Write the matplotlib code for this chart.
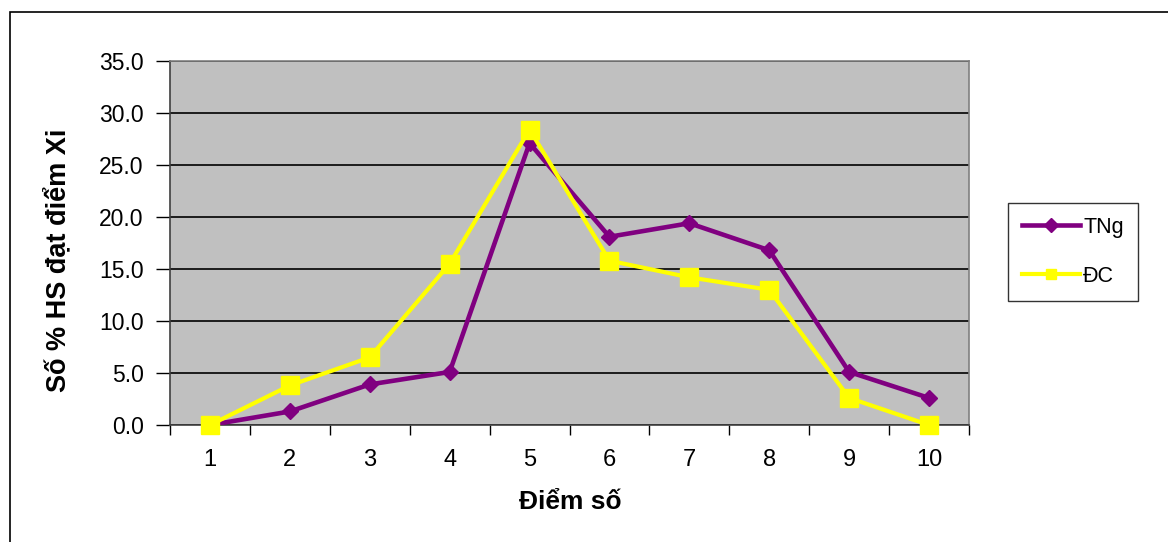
import matplotlib
matplotlib.use("Agg")
import matplotlib.pyplot as plt
from matplotlib.patches import Rectangle

categories = [1, 2, 3, 4, 5, 6, 7, 8, 9, 10]
tng = [0.0, 1.3, 3.9, 5.1, 27.1, 18.1, 19.4, 16.8, 5.1, 2.6]
dc = [0.0, 3.8, 6.5, 15.5, 28.4, 15.8, 14.2, 13.0, 2.6, 0.0]
yticks = [0, 5, 10, 15, 20, 25, 30, 35]

plt.rcParams['font.family'] = ['Liberation Sans', 'DejaVu Sans']

W, H = 1168, 542
fig = plt.figure(figsize=(W / 100, H / 100), dpi=100)
fig.patch.set_facecolor('white')

# outer chart border
fig.add_artist(Rectangle((10 / W, -0.1), 1.2, 1 - 12 / H + 0.1, transform=fig.transFigure,
                         fill=False, edgecolor='black', linewidth=1.2))

ax = fig.add_axes([170 / W, 1 - 425 / H, (969 - 170) / W, (425 - 61) / H])
ax.set_facecolor('#C0C0C0')

ax.plot(categories, tng, color='#800080', linewidth=3.3, marker='D', markersize=8.5,
        markerfacecolor='#800080', markeredgecolor='#800080', label='TNg', zorder=3)
ax.plot(categories, dc, color='#FFFF00', linewidth=3, marker='s', markersize=13.5,
        markerfacecolor='#FFFF00', markeredgecolor='#FFFF00', label='ĐC', zorder=4,
        clip_on=False)

ax.set_xlim(0.5, 10.5)
ax.set_ylim(0, 35)
ax.set_yticks(yticks)
ax.set_yticklabels([f"{v:.1f}" for v in yticks], fontsize=16.5)
ax.yaxis.grid(True, color='black', linewidth=1.2)
ax.set_axisbelow(True)

ax.set_xticks([c + 0.5 for c in [0] + categories])
ax.set_xticklabels([])
ax.set_xticks(categories, minor=True)
ax.set_xticklabels([str(c) for c in categories], minor=True, fontsize=17)
ax.tick_params(axis='x', which='minor', length=0, pad=17)
ax.tick_params(axis='x', which='major', length=7, width=1, color='black', direction='out')
ax.tick_params(axis='y', length=10, width=1, color='black', direction='out', pad=9)

for s in ['left', 'bottom']:
    ax.spines[s].set_color('#404040')
    ax.spines[s].set_linewidth(1.2)
for s in ['top', 'right']:
    ax.spines[s].set_color('#808080')
    ax.spines[s].set_linewidth(1.2)

fig.text(58 / W, 1 - 260 / H, 'Số % HS đạt điểm Xi', fontsize=19.5, fontweight='bold',
         rotation=90, ha='center', va='center')
fig.text(570 / W, 1 - 502 / H, 'Điểm số', fontsize=19, fontweight='bold',
         ha='center', va='center')

leg = fig.legend(loc='upper left', bbox_to_anchor=(1008 / W, 1 - 203 / H), fontsize=15.5,
                 frameon=True, fancybox=False, edgecolor='black', handlelength=2.7,
                 borderpad=0.65, labelspacing=1.3, handletextpad=0.15, borderaxespad=0)
leg.get_frame().set_linewidth(1.0)
for h in leg.legend_handles:
    h.set_markersize(7)

fig.savefig('out.png', dpi=100)
